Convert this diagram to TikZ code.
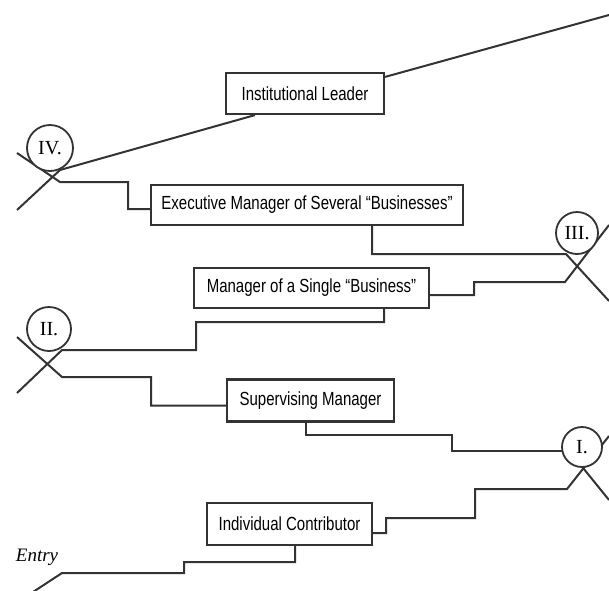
\documentclass[tikz,border=0pt]{standalone}
\usepackage{fontspec}
\setmainfont{Liberation Serif}
\newfontfamily\boxfont{Liberation Sans}[FakeStretch=0.79]
\usetikzlibrary{calc}
\tikzset{
  ln/.style={draw=black!80, line width=2pt, line join=miter},
  stage/.style={draw=black!80, line width=2.2pt, rectangle, align=center, inner sep=0pt,
    font=\boxfont\fontsize{19}{22}\selectfont, fill=white},
  numcirc/.style={draw=black!80, line width=1.8pt, circle, fill=white, inner sep=0pt,
    font=\fontsize{20}{23}\selectfont},
}
\begin{document}
\begin{tikzpicture}[x=1pt,y=-1pt]
\useasboundingbox (0,0) rectangle (609,590);
% boxes
\node[stage, minimum width=158pt, minimum height=41pt] (inst) at (305,93.5) {Institutional Leader};
\node[stage, minimum width=312pt, minimum height=40pt] (exec) at (307,205) {Executive Manager of Several “Businesses”};
\node[stage, minimum width=235pt, minimum height=40pt] (single) at (311.5,288) {Manager of a Single “Business”};
\node[stage, minimum width=167pt, minimum height=42pt] (sup) at (310.5,400.5) {Supervising Manager};
\node[stage, minimum width=165pt, minimum height=42pt] (indiv) at (289.5,524) {Individual Contributor};
% free ends / corner coordinates
\coordinate (topend) at (609,15);
\coordinate (ivA) at (17,210);
\coordinate (ivB) at (17,153);
\coordinate (iiiA) at (609,301);
\coordinate (iiiB) at (609,225);
\coordinate (iiA) at (17,393);
\coordinate (iiB) at (17,337);
\coordinate (iA) at (609,500);
\coordinate (iB) at (609,436);
\coordinate (entryend) at (33,592);
% connectors
\draw[ln] ([yshift=-5pt]inst.north east) -- (topend);
\draw[ln] (ivA) -- (60,170) -- ([xshift=30pt]inst.south west);
\draw[ln] (ivB) -- (60,182) -- (128,182) |- ([yshift=-4pt]exec.west);
\draw[ln] ([xshift=65pt]exec.south) |- (566,254) -- (iiiA);
\draw[ln] ([yshift=-7pt]single.east) -| (474,282) -- (565,282) -- (iiiB);
\draw[ln] ([xshift=72.5pt]single.south) |- (196,322) |- (62,350) -- (iiA);
\draw[ln] (iiB) -- (62,377) -- (151,377) |- ([yshift=-5pt]sup.west);
\draw[ln] ([xshift=-4.5pt]sup.south) |- (452,435) |- (572,451);
\draw[ln] (575,458) -- (iA);
\draw[ln] ([yshift=-9pt]indiv.east) -| (386,518) -| (475,489) -- (567,489) -- (iB);
\draw[ln] (entryend) -- (62,573) -- (184,573) |- (295,562) -- ([xshift=5.5pt]indiv.south);
% stage circles
\node[numcirc, minimum size=46pt] (iv) at (50,148) {IV.};
\node[numcirc, minimum size=42pt] (iii) at (577,233) {III.};
\node[numcirc, minimum size=44pt] (ii) at (49,329) {II.};
\node[numcirc, minimum size=40pt] (i) at (582,447) {I.};
% entry label
\node[font=\itshape\fontsize{19}{22}\selectfont] (entry) at (37,557) {Entry};
\end{tikzpicture}
\end{document}
